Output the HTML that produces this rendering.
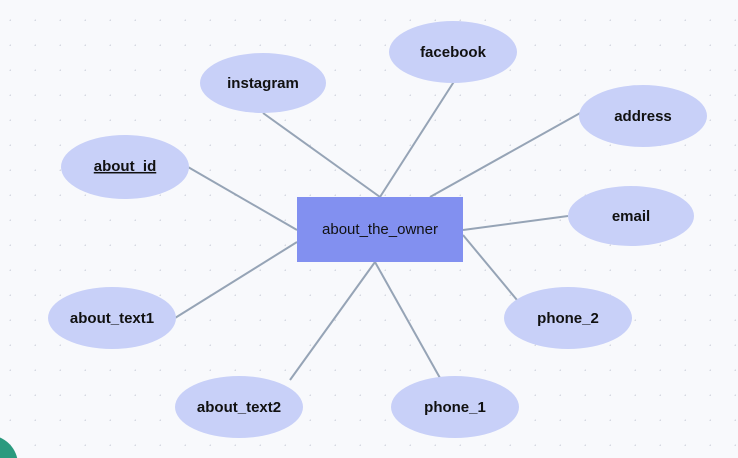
<!DOCTYPE html>
<html><head><style>
html,body{margin:0;padding:0;background:#f8f9fc;width:738px;height:458px;overflow:hidden;}
svg{display:block;}
text{font-family:"Liberation Sans",sans-serif;font-size:15px;fill:#111;text-anchor:middle;dominant-baseline:middle;}
</style></head><body>
<svg width="738" height="458" viewBox="0 0 738 458">
<defs><pattern id="d" x="-14" y="-4" width="25" height="25" patternUnits="userSpaceOnUse"><circle cx="25" cy="25" r="1.6" fill="#d6d9e2"/></pattern></defs>
<rect width="738" height="458" fill="#f8f9fc"/>
<rect width="738" height="458" fill="url(#d)"/>
<g stroke="#96a4b6" stroke-width="2">
<line x1="263" y1="113" x2="380" y2="197"/>
<line x1="455" y1="80" x2="380" y2="197"/>
<line x1="582" y1="112" x2="430" y2="197"/>
<line x1="188" y1="167" x2="297" y2="230"/>
<line x1="568" y1="216" x2="463" y2="230"/>
<line x1="175" y1="318" x2="297" y2="242"/>
<line x1="517" y1="300" x2="463" y2="235"/>
<line x1="290" y1="380" x2="375" y2="262"/>
<line x1="440" y1="378" x2="375" y2="262"/>
</g>
<g fill="#c8d0f8">
<ellipse cx="263" cy="83" rx="63" ry="30"/>
<ellipse cx="453" cy="52" rx="64" ry="31"/>
<ellipse cx="643" cy="116" rx="64" ry="31"/>
<ellipse cx="125" cy="167" rx="64" ry="32"/>
<ellipse cx="631" cy="216" rx="63" ry="30"/>
<ellipse cx="112" cy="318" rx="64" ry="31"/>
<ellipse cx="568" cy="318" rx="64" ry="31"/>
<ellipse cx="239" cy="407" rx="64" ry="31"/>
<ellipse cx="455" cy="407" rx="64" ry="31"/>
</g>
<rect x="297" y="197" width="166" height="65" fill="#8290f0"/>
<text x="380" y="230">about_the_owner</text>
<g style="font-weight:bold">
<text x="263" y="84">instagram</text>
<text x="453" y="53">facebook</text>
<text x="643" y="117">address</text>
<text x="125" y="167" text-decoration="underline">about_id</text>
<text x="631" y="217">email</text>
<text x="112" y="319">about_text1</text>
<text x="568" y="319">phone_2</text>
<text x="239" y="408">about_text2</text>
<text x="455" y="408">phone_1</text>
</g>
<circle cx="-12" cy="465" r="30" fill="#2a9a7e"/>
</svg>
</body></html>
